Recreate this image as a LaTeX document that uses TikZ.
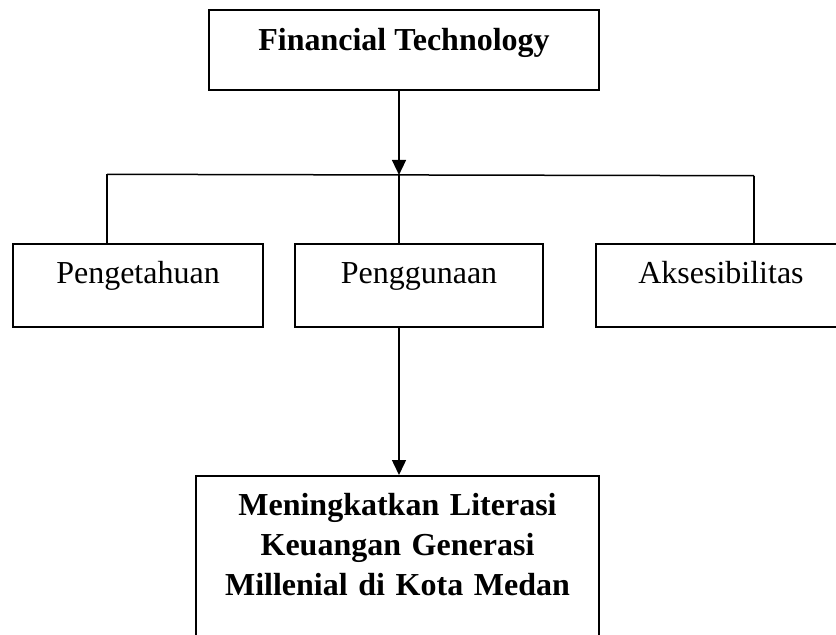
\documentclass[tikz,border=0pt]{standalone}
\usepackage{fontspec}
\setmainfont{Liberation Serif}
\usetikzlibrary{arrows.meta}
\begin{document}
\begin{tikzpicture}[x=1pt,y=-1pt,
  box/.style={draw=black, line width=1.6pt, rectangle, inner sep=0pt, align=center,
    font=\fontsize{32}{40}\selectfont},
  conn/.style={line width=1.5pt, black},
  arr/.style={conn, -{Triangle[length=15pt,width=14pt]}}]
\clip (0,0) rectangle (836,635);
\fill[white] (0,0) rectangle (836,635);
% top box
\node[box, font=\fontsize{32}{40}\selectfont\bfseries, minimum width=390pt,
  text height=41pt, text depth=39pt, anchor=north] (ft) at (404,9) {Financial Technology};
% level 2 boxes
\node[box, minimum width=250pt, text height=40pt, text depth=43pt, anchor=north] (p1) at (138,243) {Pengetahuan};
\node[box, minimum width=248pt, text height=40pt, text depth=43pt, anchor=north] (p2) at (419,243) {Penggunaan};
\node[box, minimum width=250pt, text height=40pt, text depth=43pt, anchor=north] (p3) at (721,243) {Aksesibilitas};
% bottom box
\node[box, font=\fontsize{32}{40}\selectfont\bfseries, text width=403pt,
  text height=40pt, text depth=200pt, anchor=north] (mk) at (397.5,475)
  {Meningkatkan Literasi\\Keuangan Generasi\\Millenial di Kota Medan};
% connectors
\coordinate (L) at (107,174.3);
\coordinate (R) at (754,175.7);
\coordinate (hub) at (399,174.9);
\draw[arr] (hub |- ft.south) -- (hub);
\draw[conn] (L) -- (R);
\draw[conn] (L) -- (L |- p1.north);
\draw[conn] (hub) -- (hub |- p2.north);
\draw[conn] (R) -- (R |- p3.north);
\draw[arr] (hub |- p2.south) -- (hub |- mk.north);
\end{tikzpicture}
\end{document}
